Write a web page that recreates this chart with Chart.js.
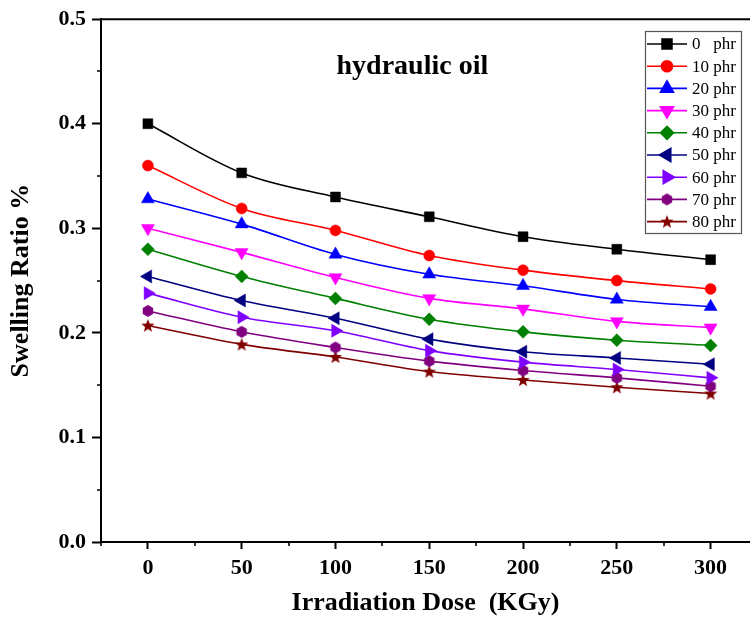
<!DOCTYPE html>
<html>
<head>
<meta charset="utf-8">
<script src="https://cdn.jsdelivr.net/npm/chart.js@4.4.0/dist/chart.umd.min.js"></script>
<style>
  html, body { margin: 0; padding: 0; background: #fff; }
  canvas { display: block; }
</style>
</head>
<body>
<canvas id="myChart" width="750" height="619"></canvas>
<script>
// irradiation dose (KGy)
const doses = [0, 50, 100, 150, 200, 250, 300];

// swelling ratio for each filler loading
const phr0  = [0.400, 0.353, 0.330, 0.311, 0.292, 0.280, 0.270];
const phr10 = [0.360, 0.319, 0.298, 0.274, 0.260, 0.250, 0.242];
const phr20 = [0.328, 0.304, 0.275, 0.256, 0.245, 0.232, 0.225];
const phr30 = [0.300, 0.277, 0.253, 0.233, 0.223, 0.211, 0.205];
const phr40 = [0.280, 0.254, 0.233, 0.213, 0.201, 0.193, 0.188];
const phr50 = [0.254, 0.231, 0.214, 0.194, 0.182, 0.176, 0.170];
const phr60 = [0.238, 0.215, 0.202, 0.183, 0.172, 0.165, 0.157];
const phr70 = [0.221, 0.201, 0.186, 0.173, 0.164, 0.157, 0.149];
const phr80 = [0.207, 0.189, 0.177, 0.163, 0.155, 0.148, 0.142];

const seriesNames = ['0   phr', '10 phr', '20 phr', '30 phr', '40 phr', '50 phr', '60 phr', '70 phr', '80 phr'];
const seriesValues = [phr0, phr10, phr20, phr30, phr40, phr50, phr60, phr70, phr80];

// tick labels
const xTicks = [0, 50, 100, 150, 200, 250, 300];
const xMinor = [-25, 25, 75, 125, 175, 225, 275];
const yTicks = [0, 0.1, 0.2, 0.3, 0.4, 0.5];
const yMinor = [0.05, 0.15, 0.25, 0.35, 0.45];

const chartTitle = 'hydraulic oil';
const xTitle = 'Irradiation Dose  (KGy)';
const yTitle = 'Swelling Ratio %';

// styles
const colors = ['#000000', '#ff0000', '#0000ff', '#ff00ff', '#008000', '#000080', '#8000ff', '#800080', '#800000'];
const SERIF = "'Liberation Serif', 'Times New Roman', serif";

const makeHexagon = (color, r) => {
  const c = document.createElement('canvas');
  c.width = c.height = Math.ceil(r * 2 + 2);
  const g = c.getContext('2d');
  const cx = c.width / 2, cy = c.height / 2;
  g.fillStyle = color;
  g.beginPath();
  for (let k = 0; k < 6; k++) {
    const a = Math.PI / 6 + k * Math.PI / 3;
    const px = cx + r * Math.cos(a), py = cy + r * Math.sin(a);
    k === 0 ? g.moveTo(px, py) : g.lineTo(px, py);
  }
  g.closePath();
  g.fill();
  return c;
};

const makeStar = (color, r) => {
  const c = document.createElement('canvas');
  c.width = c.height = Math.ceil(r * 2 + 2);
  const g = c.getContext('2d');
  const cx = c.width / 2, cy = c.height / 2 + 0.5;
  g.fillStyle = color;
  g.beginPath();
  for (let k = 0; k < 10; k++) {
    const rr = k % 2 === 0 ? r : r * 0.42;
    const a = -Math.PI / 2 + k * Math.PI / 5;
    const px = cx + rr * Math.cos(a), py = cy + rr * Math.sin(a);
    k === 0 ? g.moveTo(px, py) : g.lineTo(px, py);
  }
  g.closePath();
  g.fill();
  return c;
};

const markers = [
  { style: 'rect', radius: 7, rotation: 0 },
  { style: 'circle', radius: 5.5, rotation: 0 },
  { style: 'triangle', radius: 7.5, rotation: 0 },
  { style: 'triangle', radius: 7.5, rotation: 180 },
  { style: 'rectRot', radius: 6.5, rotation: 0 },
  { style: 'triangle', radius: 7.5, rotation: -90 },
  { style: 'triangle', radius: 7.5, rotation: 90 },
  { style: makeHexagon(colors[7], 6), radius: 6, rotation: 0 },
  { style: makeStar(colors[8], 7), radius: 7, rotation: 0 },
];

const datasets = seriesValues.map((vals, i) => ({
  label: seriesNames[i],
  data: doses.map((d, j) => ({ x: d, y: vals[j] })),
  borderColor: colors[i],
  backgroundColor: colors[i],
  borderWidth: 1.6,
  pointStyle: markers[i].style,
  pointRadius: markers[i].radius,
  pointRotation: markers[i].rotation,
  pointBackgroundColor: colors[i],
  pointBorderColor: colors[i],
  pointBorderWidth: 0.5,
  cubicInterpolationMode: 'monotone',
  fill: false,
}));

// frame top line, minor ticks, inner title, legend box
const extras = {
  id: 'extras',
  afterDraw(chart) {
    const { ctx, chartArea, scales: { x, y } } = chart;
    ctx.save();
    ctx.strokeStyle = '#000';
    ctx.lineWidth = 2;
    ctx.beginPath();
    ctx.moveTo(chartArea.left, chartArea.top);
    ctx.lineTo(chartArea.right, chartArea.top);
    ctx.stroke();

    ctx.lineWidth = 1.6;
    ctx.beginPath();
    xMinor.forEach((v) => {
      const px = Math.round(x.getPixelForValue(v));
      ctx.moveTo(px, chartArea.bottom);
      ctx.lineTo(px, chartArea.bottom + 4);
    });
    yMinor.forEach((v) => {
      const py = Math.round(y.getPixelForValue(v));
      ctx.moveTo(chartArea.left, py);
      ctx.lineTo(chartArea.left - 4, py);
    });
    ctx.stroke();

    // title inside plot
    ctx.fillStyle = '#000';
    ctx.font = `bold 28px ${SERIF}`;
    ctx.textAlign = 'center';
    ctx.textBaseline = 'alphabetic';
    ctx.fillText(chartTitle, x.getPixelForValue(141), y.getPixelForValue(0.448));

    // legend
    const bx = 645, by = 31, bw = 96, bh = 202;
    ctx.strokeStyle = '#555';
    ctx.lineWidth = 1.2;
    ctx.strokeRect(bx + 0.5, by + 0.5, bw, bh);
    ctx.font = `17px ${SERIF}`;
    ctx.textAlign = 'left';
    ctx.textBaseline = 'middle';
    seriesNames.forEach((name, i) => {
      const ry = by + 13 + i * 22.2;
      ctx.strokeStyle = colors[i];
      ctx.fillStyle = colors[i];
      ctx.lineWidth = 1.6;
      ctx.beginPath();
      ctx.moveTo(bx + 2, ry);
      ctx.lineTo(bx + 42, ry);
      ctx.stroke();
      Chart.helpers.drawPoint(ctx, {
        pointStyle: markers[i].style,
        radius: markers[i].radius,
        rotation: markers[i].rotation,
        borderWidth: 0.5,
      }, bx + 22, ry);
      ctx.fillStyle = '#000';
      ctx.fillText(name, bx + 47, ry + 1);
    });
    ctx.restore();
  },
};

const ctx = document.getElementById('myChart').getContext('2d');
const myChart = new Chart(ctx, {
  type: 'line',
  data: { datasets },
  options: {
    responsive: false,
    animation: false,
    devicePixelRatio: 1,
    layout: { autoPadding: false, padding: { top: 19, right: 0, left: 0, bottom: 0 } },
    plugins: {
      legend: { display: false },
      tooltip: { enabled: false },
    },
    scales: {
      x: {
        type: 'linear',
        min: -25,
        max: 321,
        afterBuildTicks: (scale) => { scale.ticks = xTicks.map((v) => ({ value: v })); },
        afterFit: (scale) => { scale.height = 77; },
        grid: { drawOnChartArea: false, drawTicks: true, tickLength: 7, tickWidth: 2, tickColor: '#000' },
        border: { display: true, color: '#000', width: 2 },
        ticks: {
          color: '#000',
          padding: 6,
          maxRotation: 0,
          font: { family: SERIF, size: 22, weight: 'bold' },
          callback: (v) => String(v),
        },
        title: {
          display: true,
          text: xTitle,
          color: '#000',
          font: { family: SERIF, size: 26, weight: 'bold' },
          padding: { top: 0, bottom: 0 },
        },
      },
      y: {
        type: 'linear',
        min: 0,
        max: 0.5,
        afterBuildTicks: (scale) => { scale.ticks = yTicks.map((v) => ({ value: v })); },
        afterFit: (scale) => { scale.width = 101; },
        grid: { drawOnChartArea: false, drawTicks: true, tickLength: 9, tickWidth: 2, tickColor: '#000' },
        border: { display: true, color: '#000', width: 2 },
        ticks: {
          color: '#000',
          padding: 6,
          font: { family: SERIF, size: 22, weight: 'bold' },
          callback: (v) => Number(v).toFixed(1),
        },
        title: {
          display: true,
          text: yTitle,
          color: '#000',
          font: { family: SERIF, size: 26, weight: 'bold' },
          padding: { top: 6, bottom: 0 },
        },
      },
    },
  },
  plugins: [extras],
});
</script>
</body>
</html>
